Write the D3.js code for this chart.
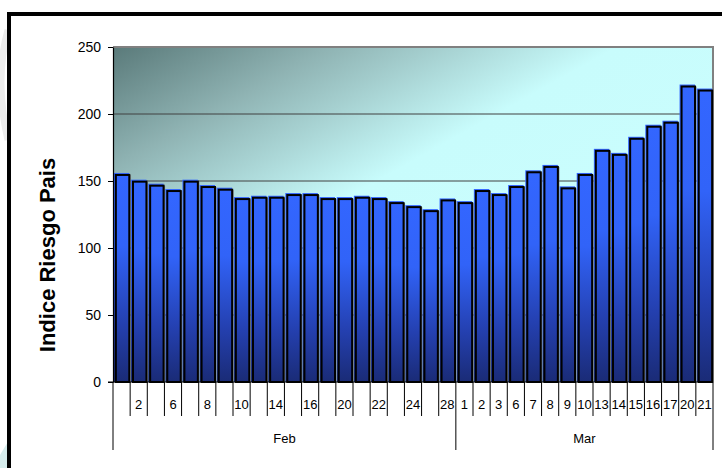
<!DOCTYPE html>
<html>
<head>
<meta charset="utf-8">
<script src="https://cdn.jsdelivr.net/npm/d3@7"></script>
<style>
  html, body { margin: 0; padding: 0; background: #fff; }
  svg { display: block; }
  text { font-family: "Liberation Sans", Arial, sans-serif; }
</style>
</head>
<body>
<svg id="chart" width="722" height="468"></svg>
<script>
// ---- data ----
const febDays = ["1","2","3","6","7","8","9","10","13","14","15","16","17","20","21","22","23","24","27","28"];
const marDays = ["1","2","3","6","7","8","9","10","13","14","15","16","17","20","21"];
const febValues = [156,151,148,144,151,147,145,138,139,139,141,141,138,138,139,138,135,132,129,137];
const marValues = [135,144,141,147,158,162,146,156,174,171,183,192,195,222,219];
const months = ["Feb", "Mar"];
const yTicks = [0, 50, 100, 150, 200, 250];
const yTitle = "Indice Riesgo Pais";

// build rows
const rows = [];
febDays.forEach((d, i) => rows.push({ month: "Feb", day: d, value: febValues[i], showLabel: i % 2 === 1 }));
marDays.forEach((d, i) => rows.push({ month: "Mar", day: d, value: marValues[i], showLabel: true }));

const svg = d3.select("#chart");
const pL = 113, pR = 713, pT = 47, pB = 382;

// faint marks outside the frame (like the reference)
svg.append("path").attr("d", "M8,30 Q-6,80 8,140").attr("fill", "none")
  .attr("stroke", "#ececec").attr("stroke-width", 7);
svg.append("path").attr("d", "M0,455 L9,440 L9,468 L0,468 Z").attr("fill", "#d6ecec");

// outer frame
svg.append("rect").attr("x", 9).attr("y", 14).attr("width", 730).attr("height", 470)
  .attr("fill", "#fff").attr("stroke", "#000").attr("stroke-width", 4);

const defs = svg.append("defs");
const bg = defs.append("linearGradient").attr("id", "bg")
  .attr("x1", 0).attr("y1", 0).attr("x2", 1).attr("y2", 1);
bg.append("stop").attr("offset", 0).attr("stop-color", "#5a7a7a");
bg.append("stop").attr("offset", 0.18).attr("stop-color", "#8fb3b3");
bg.append("stop").attr("offset", 0.42).attr("stop-color", "#c8fcfc");
bg.append("stop").attr("offset", 1).attr("stop-color", "#ccffff");

const bar = defs.append("linearGradient").attr("id", "bar")
  .attr("x1", 0).attr("y1", 0).attr("x2", 0).attr("y2", 1);
bar.append("stop").attr("offset", 0).attr("stop-color", "#3366ff");
bar.append("stop").attr("offset", 0.35).attr("stop-color", "#3163f8");
bar.append("stop").attr("offset", 0.72).attr("stop-color", "#2440b0");
bar.append("stop").attr("offset", 1).attr("stop-color", "#1a2b76");

// scales
const x = d3.scaleBand().domain(d3.range(rows.length)).range([pL, pR])
  .paddingInner(0.1).paddingOuter(0.05);
const xs = d3.scaleLinear().domain([0, rows.length]).range([pL, pR]);
const y = d3.scaleLinear().domain([0, 250]).range([pB, pT]);

// plot background
svg.append("rect").attr("x", pL).attr("y", pT).attr("width", pR - pL).attr("height", pB - pT)
  .attr("fill", "url(#bg)");

// gridlines
svg.append("g").selectAll("line").data(yTicks.filter(t => t > 0 && t < 250)).join("line")
  .attr("x1", pL).attr("x2", pR).attr("y1", d => y(d)).attr("y2", d => y(d))
  .attr("stroke", "#404040").attr("stroke-width", 1);

// plot border (top/right gray)
svg.append("path").attr("d", `M${pL},${pT}H${pR}V${pB}`)
  .attr("fill", "none").attr("stroke", "#808080").attr("stroke-width", 2);

// bars
const w = x.bandwidth();
const bars = svg.append("g");
bars.selectAll("rect.shadow").data(rows).join("rect").attr("class", "shadow")
  .attr("x", (d, i) => x(i) + 1.5).attr("y", d => y(d.value) + 2)
  .attr("width", w).attr("height", d => pB - y(d.value) - 2)
  .attr("fill", "#7a7a7a");
bars.selectAll("rect.body").data(rows).join("rect").attr("class", "body")
  .attr("x", (d, i) => x(i)).attr("y", d => y(d.value))
  .attr("width", w).attr("height", d => pB - y(d.value))
  .attr("fill", "url(#bar)");
bars.selectAll("rect.outline").data(rows).join("rect").attr("class", "outline")
  .attr("x", (d, i) => x(i) + 2).attr("y", d => y(d.value) + 2)
  .attr("width", w - 2).attr("height", d => pB - y(d.value) - 2)
  .attr("fill", "none").attr("stroke", "#000").attr("stroke-width", 2);

// y axis
const yAxis = svg.append("g").attr("transform", `translate(${pL},0)`)
  .call(d3.axisLeft(y).tickValues(yTicks).tickSize(5).tickPadding(7).tickSizeOuter(0));
yAxis.select(".domain").attr("stroke", "#000").attr("stroke-width", 1.2);
yAxis.selectAll(".tick line").attr("stroke", "#000");
yAxis.selectAll("text").attr("font-size", 14).attr("fill", "#000")
  .attr("font-family", "Liberation Sans, Arial, sans-serif");

// y title
svg.append("text").attr("transform", "translate(55,255) rotate(-90)")
  .attr("text-anchor", "middle").attr("font-size", 22).attr("font-weight", "bold")
  .attr("fill", "#000").text(yTitle);

// x axis line
svg.append("line").attr("x1", pL - 5).attr("x2", pR).attr("y1", pB).attr("y2", pB)
  .attr("stroke", "#000").attr("stroke-width", 1.2);

// category boundary ticks
const groupBounds = [0, febDays.length, rows.length];
svg.append("g").selectAll("line").data(d3.range(rows.length + 1)).join("line")
  .attr("x1", d => xs(d)).attr("x2", d => xs(d))
  .attr("y1", pB).attr("y2", d => groupBounds.includes(d) ? 450 : 416)
  .attr("stroke", "#000").attr("stroke-width", 1);

// day labels
svg.append("g").selectAll("text").data(rows.map((r, i) => ({ ...r, i })).filter(r => r.showLabel)).join("text")
  .attr("x", d => x(d.i) + w / 2).attr("y", 409)
  .attr("text-anchor", "middle").attr("font-size", 13).attr("fill", "#000")
  .text(d => d.day);

// month labels
svg.append("g").selectAll("text").data(months).join("text")
  .attr("x", (m, k) => (xs(groupBounds[k]) + xs(groupBounds[k + 1])) / 2).attr("y", 443)
  .attr("text-anchor", "middle").attr("font-size", 13).attr("fill", "#000")
  .text(d => d);
</script>
</body>
</html>
